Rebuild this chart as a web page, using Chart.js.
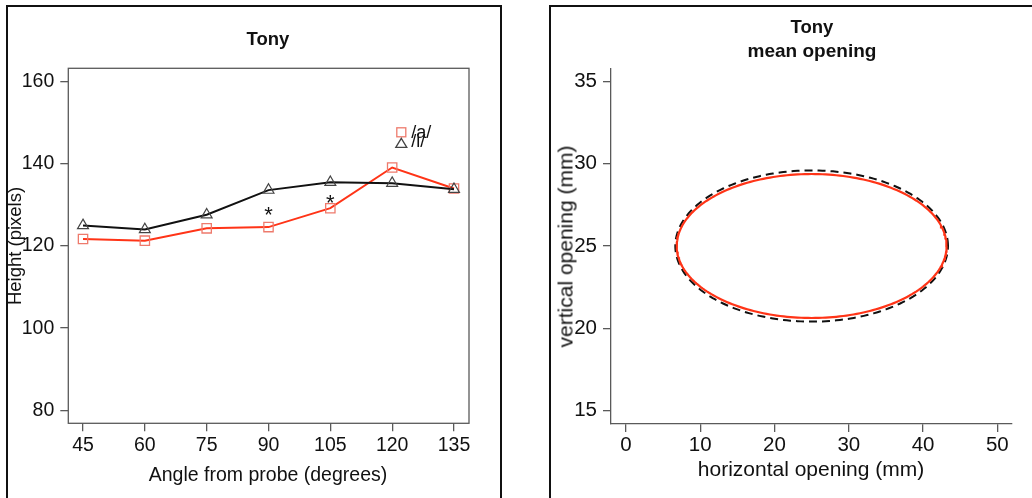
<!DOCTYPE html>
<html>
<head>
<meta charset="utf-8">
<script src="https://cdn.jsdelivr.net/npm/chart.js@4.4.1/dist/chart.umd.min.js"></script>
<style>
  html, body { margin: 0; padding: 0; background: #fff; }
  body { position: relative; width: 1032px; height: 498px; overflow: hidden;
         font-family: "Liberation Sans", Arial, Helvetica, sans-serif; color: #111; }
  .frame { position: absolute; border: 2px solid #111; box-sizing: border-box; }
  canvas { position: absolute; top: 0; }
  .txt { position: absolute; white-space: nowrap; text-align: center; }
  .bold { font-weight: bold; }
</style>
</head>
<body>
<div class="frame" style="left:6px; top:5px; width:496px; height:600px;"></div>
<div class="frame" style="left:549px; top:5px; width:600px; height:600px;"></div>

<canvas id="heightChart" width="516" height="498" style="left:0px;"></canvas>
<canvas id="openingChart" width="512" height="498" style="left:520px;"></canvas>

<div class="txt bold" style="left:168px; width:200px; top:28px; font-size:18.5px; line-height:22px;">Tony</div>
<div class="txt" style="left:118px; width:300px; top:462px; font-size:19.5px; line-height:24px;">Angle from probe (degrees)</div>
<div class="txt" style="left:-85px; width:200px; top:234px; font-size:18.5px; line-height:24px; transform:rotate(-90deg);">Height (pixels)</div>

<div class="txt bold" style="left:662px; width:300px; top:16px; font-size:18.5px; line-height:22px;">Tony</div>
<div class="txt bold" style="left:662px; width:300px; top:40px; font-size:19px; line-height:22px;">mean opening</div>
<div class="txt" style="left:661px; width:300px; top:456px; font-size:21px; line-height:25px;">horizontal opening (mm)</div>
<div class="txt" style="left:415px; width:300px; top:234px; font-size:21px; line-height:25px; transform:rotate(-90deg);">vertical opening (mm)</div>

<script>
// ---- Tongue height by probe angle ----
const angles     = [45, 60, 75, 90, 105, 120, 135];
const heightA    = [121.7, 121.3, 124.3, 124.6, 129.2, 139.1, 134.0];   // /a/
const heightI    = [125.0, 124.0, 127.6, 133.6, 135.5, 135.3, 133.8];   // /i/
const heightTicks = [80, 100, 120, 140, 160];
// angles where the two vowels differ significantly, and where the star sits
const sigAngles  = [90, 105];
const sigHeights = [129.0, 131.9];

// ---- Mean mouth opening (ellipse centre and half-axes, mm) ----
const openCentre = [25.0, 25.0];
const openA      = [18.17, 4.38];   // solid red outline
const openI      = [18.36, 4.60];   // dashed black outline
const hTicks     = [0, 10, 20, 30, 40, 50];
const vTicks     = [15, 20, 25, 30, 35];

const FONT = '"Liberation Sans", Arial, Helvetica, sans-serif';
const RED = '#ff3417';
const RED_MARK = '#ee7a6c';
const AXIS_GREY = '#5a5a5a';

function toPoints(xs, ys) { return xs.map((x, i) => ({ x: x, y: ys[i] })); }

function ellipsePoints(centre, half) {
  const pts = [];
  const n = 240;
  for (let k = 0; k <= n; k++) {
    const t = 2 * Math.PI * k / n;
    pts.push({ x: centre[0] + half[0] * Math.cos(t), y: centre[1] + half[1] * Math.sin(t) });
  }
  return pts;
}

function axis(min, max, ticks, fontSize, pad, fit, border) {
  return {
    type: 'linear', min: min, max: max,
    afterBuildTicks: s => { s.ticks = ticks.map(v => ({ value: v })); },
    afterFit: fit,
    grid: { display: true, drawOnChartArea: false, drawTicks: true, tickLength: 8,
            color: AXIS_GREY, lineWidth: 1.3 },
    border: { display: border, color: AXIS_GREY, width: 1.3 },
    ticks: { color: '#111', font: { family: FONT, size: fontSize }, padding: pad,
             maxRotation: 0, autoSkip: false, callback: v => String(v) }
  };
}

// box around the plotting region
const boxPlugin = {
  id: 'box',
  beforeDatasetsDraw(chart) {
    const a = chart.chartArea, c = chart.ctx;
    c.save();
    c.strokeStyle = AXIS_GREY; c.lineWidth = 1.3;
    c.strokeRect(a.left, a.top, a.right - a.left, a.bottom - a.top);
    c.restore();
  }
};

// significance stars and the vowel key
const notesPlugin = {
  id: 'notes',
  afterDatasetsDraw(chart) {
    const c = chart.ctx, xs = chart.scales.x, ys = chart.scales.y, a = chart.chartArea;
    c.save();
    c.fillStyle = '#111';
    c.font = '22px ' + FONT;
    c.textAlign = 'center'; c.textBaseline = 'alphabetic';
    sigAngles.forEach((ang, i) => {
      c.fillText('*', xs.getPixelForValue(ang), ys.getPixelForValue(sigHeights[i]) + 12.5);
    });
    // key
    const kx = a.left + 333, ky = a.top + 64;
    c.strokeStyle = RED_MARK; c.lineWidth = 1.3;
    c.strokeRect(kx - 4.5, ky - 4.5, 9, 9);
    c.strokeStyle = '#444';
    c.beginPath();
    c.moveTo(kx, ky + 6); c.lineTo(kx + 5.5, ky + 15); c.lineTo(kx - 5.5, ky + 15); c.closePath();
    c.stroke();
    c.fillStyle = '#111';
    c.font = '18px ' + FONT;
    c.textAlign = 'left'; c.textBaseline = 'middle';
    c.fillText('/a/', kx + 10, ky + 1);
    c.fillText('/i/', kx + 10, ky + 10);
    c.restore();
  }
};

new Chart(document.getElementById('heightChart'), {
  type: 'scatter',
  data: {
    datasets: [
      { label: '/i/', data: toPoints(angles, heightI), showLine: true,
        borderColor: '#111', borderWidth: 2,
        pointStyle: 'triangle', pointRadius: 6.3, pointBorderWidth: 1.2,
        pointBorderColor: '#444', pointBackgroundColor: 'rgba(0,0,0,0)', order: 1 },
      { label: '/a/', data: toPoints(angles, heightA), showLine: true,
        borderColor: RED, borderWidth: 2,
        pointStyle: 'rect', pointRadius: 6.6, pointBorderWidth: 1.3,
        pointBorderColor: RED_MARK, pointBackgroundColor: 'rgba(0,0,0,0)', order: 2 }
    ]
  },
  options: {
    responsive: false, animation: false, devicePixelRatio: 1,
    layout: { padding: { left: 0, top: 68.3, right: 47, bottom: 34.7 } },
    plugins: { legend: { display: false }, tooltip: { enabled: false }, title: { display: false } },
    scales: {
      x: axis(41.43, 138.64, angles, 19.5, 3, s => { s.height = 40; }, false),
      y: axis(76.83, 163.26, heightTicks, 19.5, 6, s => { s.width = 68.3; }, false)
    }
  },
  plugins: [boxPlugin, notesPlugin]
});

new Chart(document.getElementById('openingChart'), {
  type: 'scatter',
  data: {
    datasets: [
      { label: '/a/', data: ellipsePoints(openCentre, openA), showLine: true,
        borderColor: RED, borderWidth: 2.2, pointRadius: 0, order: 1 },
      { label: '/i/', data: ellipsePoints(openCentre, openI), showLine: true,
        borderColor: '#111', borderWidth: 2, borderDash: [8, 5], pointRadius: 0, order: 2 }
    ]
  },
  options: {
    responsive: false, animation: false, devicePixelRatio: 1,
    layout: { padding: { left: 0, top: 69, right: 20.3, bottom: 34 } },
    plugins: { legend: { display: false }, tooltip: { enabled: false }, title: { display: false } },
    scales: {
      x: axis(-2.02, 51.94, hTicks, 20.5, 1, s => { s.height = 40; }, true),
      y: axis(14.17, 35.77, vTicks, 20.5, 6, s => { s.width = 91; }, true)
    }
  }
});
</script>
</body>
</html>
